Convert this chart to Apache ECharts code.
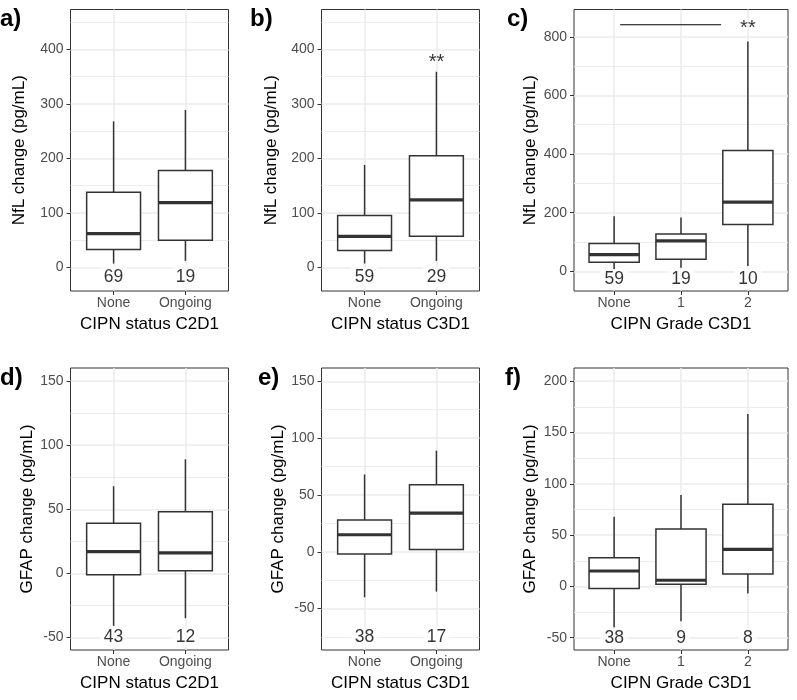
<!DOCTYPE html>
<html><head><meta charset="utf-8">
<script src="https://cdn.jsdelivr.net/npm/echarts@6/dist/echarts.min.js"></script>
<style>html,body{margin:0;padding:0;background:#fff}#c{width:797px;height:700px}</style>
</head><body><div id="c"></div>
<script>
// ---------- data ----------
const catsStatus = ['None', 'Ongoing'];
const catsGrade = ['None', '1', '2'];
// five-number summaries: [lower whisker, Q1, median, Q3, upper whisker]
const nflC2D1 = [[7, 33, 62, 138, 268], [12, 50, 119, 178, 289]];
const nflC3D1 = [[7, 31, 57, 95, 188], [12, 57, 124, 205, 359]];
const nflGrade = [[7, 31, 57, 95, 188], [12, 41, 104, 127, 184], [18, 160, 236, 412, 784]];
const gfapC2D1 = [[-41, -1, 17, 39, 68], [-35, 2, 16, 48, 89]];
const gfapC3D1 = [[-40, -2, 15, 28, 68], [-35, 2, 34, 59, 89]];
const gfapGrade = [[-40, -2, 15, 28, 68], [-34, 2, 6, 56, 89], [-7, 12, 36, 80, 168]];
// group sizes
const nNflC2D1 = [69, 19];
const nNflC3D1 = [59, 29];
const nNflGrade = [59, 19, 10];
const nGfapC2D1 = [43, 12];
const nGfapC3D1 = [38, 17];
const nGfapGrade = [38, 9, 8];
// tick labels
const nflTicks = [0, 100, 200, 300, 400];
const nflMinor = [50, 150, 250, 350, 450];
const nflGradeTicks = [0, 200, 400, 600, 800];
const nflGradeMinor = [100, 300, 500, 700];
const gfapTicks = [-50, 0, 50, 100, 150];
const gfapMinorD = [-25, 25, 75, 125];
const gfapMinorE = [-75, -25, 25, 75, 125];
const gfapGradeTicks = [-50, 0, 50, 100, 150, 200];
const gfapGradeMinor = [-25, 25, 75, 125, 175];
// significance annotations
const starB = [[1, 377, '**']];
const bracketC = [[0.09, 841], [1.6, 841]];
const starC = [[2, 827, '**']];

// ---------- layout ----------
const FONT = "'Liberation Sans', Arial, Helvetica, sans-serif";
const panels = [
  {letter: 'a)', lx: 0, ly: 7, cats: catsStatus, stats: nflC2D1, n: nNflC2D1, ticks: nflTicks, minor: nflMinor,
   ymin: -43.4, ymax: 473.4, labelY: -18, ytitle: 'NfL change (pg/mL)', xtitle: 'CIPN status C2D1',
   left: 70.5, top: 9.5, width: 158, height: 281.5, nameGap: 43},
  {letter: 'b)', lx: 250, ly: 7, cats: catsStatus, stats: nflC3D1, n: nNflC3D1, ticks: nflTicks, minor: nflMinor,
   ymin: -43.4, ymax: 473.4, labelY: -18, ytitle: 'NfL change (pg/mL)', xtitle: 'CIPN status C3D1',
   left: 321.5, top: 9.5, width: 158, height: 281.5, nameGap: 42},
  {letter: 'c)', lx: 507, ly: 7, cats: catsGrade, stats: nflGrade, n: nNflGrade, ticks: nflGradeTicks, minor: nflGradeMinor,
   ymin: -67, ymax: 893, labelY: -27, ytitle: 'NfL change (pg/mL)', xtitle: 'CIPN Grade C3D1',
   left: 574, top: 9.5, width: 214, height: 281.5, nameGap: 35},
  {letter: 'd)', lx: 0, ly: 366, cats: catsStatus, stats: gfapC2D1, n: nGfapC2D1, ticks: gfapTicks, minor: gfapMinorD,
   ymin: -59.8, ymax: 160.2, labelY: -50, ytitle: 'GFAP change (pg/mL)', xtitle: 'CIPN status C2D1',
   left: 70.5, top: 368, width: 158, height: 282, nameGap: 35},
  {letter: 'e)', lx: 258, ly: 366, cats: catsStatus, stats: gfapC3D1, n: nGfapC3D1, ticks: gfapTicks, minor: gfapMinorE,
   ymin: -86.4, ymax: 161.7, labelY: -75, ytitle: 'GFAP change (pg/mL)', xtitle: 'CIPN status C3D1',
   left: 321.5, top: 368, width: 158, height: 282, nameGap: 35},
  {letter: 'f)', lx: 505, ly: 366, cats: catsGrade, stats: gfapGrade, n: nGfapGrade, ticks: gfapGradeTicks, minor: gfapGradeMinor,
   ymin: -62, ymax: 212.9, labelY: -50, ytitle: 'GFAP change (pg/mL)', xtitle: 'CIPN Grade C3D1',
   left: 574, top: 368, width: 214, height: 282, nameGap: 35}
];

const BOX = '#333333';
function renderBox(params, api) {
  const x = api.value(0);
  const lo = api.coord([x, api.value(1)]);
  const q1 = api.coord([x, api.value(2)]);
  const md = api.coord([x, api.value(3)]);
  const q3 = api.coord([x, api.value(4)]);
  const hi = api.coord([x, api.value(5)]);
  const hw = api.size([0.75, 0])[0] / 2;
  return {
    type: 'group',
    children: [
      {type: 'line', shape: {x1: lo[0], y1: lo[1], x2: q1[0], y2: q1[1]}, style: {stroke: BOX, lineWidth: 1.5}},
      {type: 'line', shape: {x1: q3[0], y1: q3[1], x2: hi[0], y2: hi[1]}, style: {stroke: BOX, lineWidth: 1.5}},
      {type: 'rect', shape: {x: q3[0] - hw, y: q3[1], width: 2 * hw, height: q1[1] - q3[1]},
       style: {fill: '#ffffff', stroke: BOX, lineWidth: 1.5}},
      {type: 'line', shape: {x1: md[0] - hw, y1: md[1], x2: md[0] + hw, y2: md[1]}, style: {stroke: BOX, lineWidth: 3.2}}
    ]
  };
}

const grids = [], xAxes = [], yAxes = [], series = [], graphics = [];
panels.forEach((p, i) => {
  const idx = p.cats.map((c, k) => k);
  grids.push({left: p.left, top: p.top, width: p.width, height: p.height, show: true,
    borderColor: '#333', borderWidth: 1, backgroundColor: '#fff', containLabel: false, outerBoundsMode: 'none'});
  xAxes.push({type: 'value', gridIndex: i, min: -0.6, max: p.cats.length - 0.4, position: 'bottom',
    axisLine: {show: false, onZero: false},
    axisTick: {show: true, length: 4, lineStyle: {color: '#333', width: 1}, customValues: idx},
    axisLabel: {show: true, customValues: idx, formatter: v => p.cats[Math.round(v)],
      fontSize: 14, color: '#4d4d4d', margin: 5, fontFamily: FONT},
    splitLine: {show: true, lineStyle: {color: '#ebebeb', width: 1.5}},
    name: p.xtitle, nameLocation: 'middle', nameGap: 25,
    nameTextStyle: {fontSize: 17, color: '#000', fontFamily: FONT}});
  yAxes.push({type: 'value', gridIndex: i, min: p.ymin, max: p.ymax, position: 'left',
    axisLine: {show: false, onZero: false},
    axisTick: {show: true, length: 4, lineStyle: {color: '#333', width: 1}, customValues: p.ticks},
    axisLabel: {show: true, customValues: p.ticks, fontSize: 14, color: '#4d4d4d', margin: 7, fontFamily: FONT},
    splitLine: {show: true, lineStyle: {color: '#ebebeb', width: 1.5}},
    name: p.ytitle, nameLocation: 'middle', nameGap: p.nameGap,
    nameTextStyle: {fontSize: 17, color: '#000', fontFamily: FONT}});
  yAxes.push({type: 'value', gridIndex: i, min: p.ymin, max: p.ymax, position: 'left',
    axisLine: {show: false, onZero: false}, axisTick: {show: false, customValues: p.minor}, axisLabel: {show: false},
    splitLine: {show: true, lineStyle: {color: '#ebebeb', width: 0.9}}});
  series.push({type: 'custom', xAxisIndex: i, yAxisIndex: 2 * i, silent: true, z: 3,
    data: p.stats.map((s, k) => [k].concat(s)), encode: {x: 0, y: [1, 2, 3, 4, 5]}, renderItem: renderBox});
  series.push({type: 'scatter', xAxisIndex: i, yAxisIndex: 2 * i, silent: true, z: 5,
    data: p.n.map((v, k) => [k, p.labelY, v]), symbolSize: 1, itemStyle: {color: 'rgba(0,0,0,0)'},
    label: {show: true, position: 'inside', formatter: q => String(q.value[2]), fontSize: 17.5, color: '#000',
      backgroundColor: '#fff', padding: [1, 4], fontFamily: FONT}});
  graphics.push({type: 'text', left: p.lx, top: p.ly, z: 10,
    style: {text: p.letter, font: 'bold 24px ' + FONT, fill: '#000'}});
});

// significance marks
function starSeries(gi, data) {
  return {type: 'scatter', xAxisIndex: gi, yAxisIndex: 2 * gi, silent: true, z: 6,
    data: data, symbolSize: 1, itemStyle: {color: 'rgba(0,0,0,0)'},
    label: {show: true, position: 'inside', formatter: q => q.value[2], fontSize: 20, color: '#000', fontFamily: FONT}};
}
series.push(starSeries(1, starB));
series.push(starSeries(2, starC));
series.push({type: 'line', xAxisIndex: 2, yAxisIndex: 4, data: bracketC, symbol: 'none', silent: true, z: 6,
  lineStyle: {color: '#000', width: 1.2}});

const chart = echarts.init(document.getElementById('c'), null, {renderer: 'canvas'});
chart.setOption({
  animation: false,
  backgroundColor: '#fff',
  grid: grids, xAxis: xAxes, yAxis: yAxes, series: series, graphic: graphics
});
</script>
</body></html>
